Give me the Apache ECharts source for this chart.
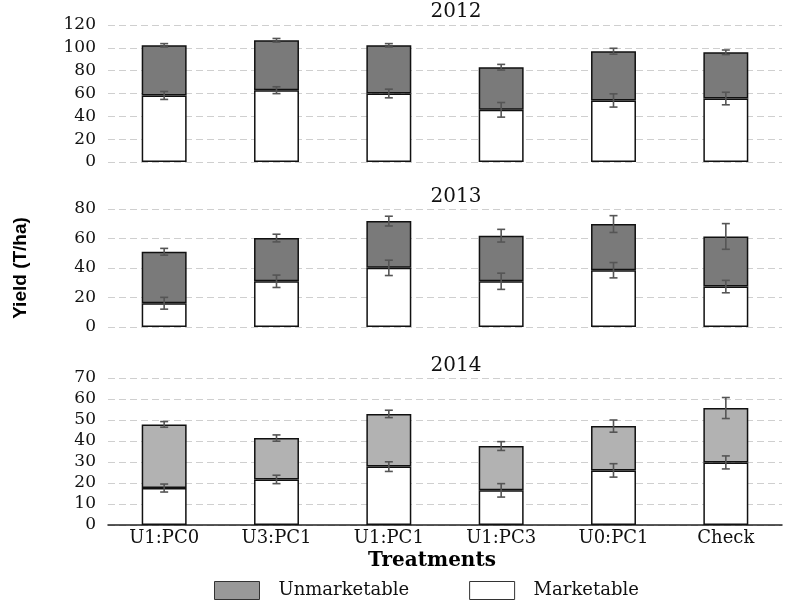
<!DOCTYPE html>
<html>
<head>
<meta charset="utf-8">
<script src="https://cdn.jsdelivr.net/npm/echarts@6/dist/echarts.min.js"></script>
<style>html,body{margin:0;padding:0;background:#fff;}#c{width:800px;height:600px;}</style>
</head>
<body>
<div id="c"></div>
<script>
const categories = ['U1:PC0','U3:PC1','U1:PC1','U1:PC3','U0:PC1','Check'];
const years = ['2012','2013','2014'];

const mk2012 = [58.3, 62.9, 60.0, 45.7, 53.9, 55.6];
const tot2012 = [102.2, 106.6, 102.2, 83.0, 97.0, 96.1];
const mkErr2012 = [3.5, 3.0, 3.8, 6.4, 5.8, 5.5];
const totErr2012 = [1.5, 1.6, 1.5, 2.5, 2.6, 2.0];

const mk2013 = [16.1, 31.0, 40.1, 31.0, 38.5, 27.4];
const tot2013 = [51.0, 60.3, 71.8, 61.9, 69.8, 61.4];
const mkErr2013 = [4.0, 4.2, 5.2, 5.5, 5.2, 4.2];
const totErr2013 = [2.3, 2.6, 3.3, 4.3, 5.7, 8.7];

const mk2014 = [17.6, 21.7, 27.8, 16.5, 26.0, 29.8];
const tot2014 = [47.9, 41.4, 52.9, 37.6, 47.1, 55.7];
const mkErr2014 = [1.9, 2.0, 2.3, 3.2, 3.2, 3.1];
const totErr2014 = [1.35, 1.5, 1.75, 2.1, 2.9, 5.0];

const yMax = [120, 80, 70];
const yInterval = [20, 20, 10];

const panels = [
  {mk: mk2012, tot: tot2012, mkErr: mkErr2012, totErr: totErr2012},
  {mk: mk2013, tot: tot2013, mkErr: mkErr2013, totErr: totErr2013},
  {mk: mk2014, tot: tot2014, mkErr: mkErr2014, totErr: totErr2014}
];

const SERIF = "'DejaVu Serif', 'Liberation Serif', serif";
const unmColors = ['#7a7a7a', '#7a7a7a', '#b2b2b2'];
const gridPos = [
  {left: 108, right: 18, top: 25, height: 137},
  {left: 108, right: 18, top: 209, height: 118},
  {left: 108, right: 18, top: 378, height: 147}
];
const titleTops = [-3, 182, 351];

function errRender(params, api) {
  const i = api.value(0);
  const lo = api.coord([i, api.value(1)]);
  const hi = api.coord([i, api.value(2)]);
  const cap = 4;
  const style = {stroke: '#555', lineWidth: 1.6};
  return {
    type: 'group',
    children: [
      {type: 'line', shape: {x1: lo[0], y1: lo[1], x2: hi[0], y2: hi[1]}, style},
      {type: 'line', shape: {x1: lo[0]-cap, y1: lo[1], x2: lo[0]+cap, y2: lo[1]}, style},
      {type: 'line', shape: {x1: hi[0]-cap, y1: hi[1], x2: hi[0]+cap, y2: hi[1]}, style}
    ]
  };
}

const grid = [], xAxis = [], yAxis = [], series = [], title = [];
panels.forEach((p, k) => {
  grid.push(gridPos[k]);
  title.push({text: years[k], left: 451, top: titleTops[k], textAlign: 'center',
    textStyle: {fontFamily: SERIF, fontWeight: 'normal', fontSize: 20, color: '#111'}});
  const last = k === 2;
  xAxis.push({
    type: 'category', gridIndex: k, data: categories,
    axisLine: {show: last, lineStyle: {color: '#222', width: 1.5}},
    axisTick: {show: false},
    axisLabel: {show: last, fontFamily: SERIF, fontSize: 18, color: '#111', margin: 4},
    name: last ? 'Treatments' : '',
    nameLocation: 'middle', nameGap: 26,
    nameTextStyle: {fontFamily: SERIF, fontWeight: 'bold', fontSize: 20, color: '#000', padding: [0, 26, 0, 0]}
  });
  yAxis.push({
    type: 'value', gridIndex: k, min: 0, max: yMax[k], interval: yInterval[k],
    axisLine: {show: false}, axisTick: {show: false},
    axisLabel: {fontFamily: SERIF, fontSize: 17, color: '#111', margin: 12},
    splitLine: {show: true, lineStyle: {type: [7, 4], color: '#cfcfcf', width: 1}},
    name: k === 1 ? 'Yield (T/ha)' : '',
    nameLocation: 'middle', nameRotate: 90, nameGap: 78,
    nameTextStyle: {fontFamily: "'Liberation Sans Narrow', 'Liberation Sans', sans-serif", fontWeight: 'bold', fontSize: 19, color: '#000'}
  });
  series.push({
    name: 'Marketable', type: 'bar', xAxisIndex: k, yAxisIndex: k, stack: 's' + k,
    barWidth: '40%', data: p.mk,
    itemStyle: {color: '#ffffff', borderColor: '#111', borderWidth: 1.5}
  });
  series.push({
    name: 'Unmarketable', type: 'bar', xAxisIndex: k, yAxisIndex: k, stack: 's' + k,
    barWidth: '40%', data: p.tot.map((t, i) => +(t - p.mk[i]).toFixed(2)),
    itemStyle: {color: unmColors[k], borderColor: '#111', borderWidth: 1.5}
  });
  series.push({
    type: 'custom', xAxisIndex: k, yAxisIndex: k, z: 10,
    renderItem: errRender,
    data: p.mk.map((v, i) => [i, v - p.mkErr[i], v + p.mkErr[i]])
  });
  series.push({
    type: 'custom', xAxisIndex: k, yAxisIndex: k, z: 10,
    renderItem: errRender,
    data: p.tot.map((v, i) => [i, v - p.totErr[i], v + p.totErr[i]])
  });
});

const chart = echarts.init(document.getElementById('c'));
chart.setOption({
  animation: false,
  backgroundColor: '#fff',
  title,
  grid, xAxis, yAxis, series,
  legend: {
    left: 209, top: 576, itemWidth: 45, itemHeight: 18, itemGap: 60,
    icon: 'rect', selectedMode: false,
    data: [
      {name: 'Unmarketable', itemStyle: {color: '#999999', borderColor: '#333', borderWidth: 1}},
      {name: 'Marketable', itemStyle: {color: '#ffffff', borderColor: '#333', borderWidth: 1}}
    ],
    textStyle: {fontFamily: SERIF, fontSize: 18, color: '#111', padding: [0, 0, 0, 14]}
  }
});
</script>
</body>
</html>
